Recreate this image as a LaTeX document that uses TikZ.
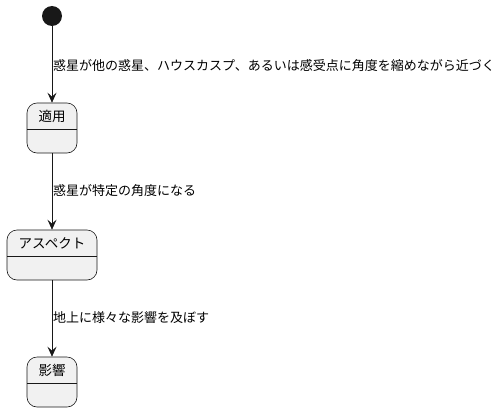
\documentclass[tikz,border=0pt]{standalone}
\usepackage{fontspec}
\newfontfamily\cjk{Noto Sans CJK JP}
\usetikzlibrary{arrows.meta,positioning}
\definecolor{statefill}{HTML}{F1F1F1}
\definecolor{linec}{HTML}{181818}
\tikzset{
  x=1pt,y=-1pt,
  statebox/.style={draw=linec,fill=statefill,rounded corners=10pt,line width=0.6pt,minimum height=50pt,inner sep=0pt},
  arr/.style={draw=linec,line width=0.6pt,-{Stealth[length=10pt,width=9pt,inset=4pt]}},
  lbl/.style={font=\cjk\fontsize{13}{15}\selectfont,text=black,anchor=west,inner sep=0pt},
  sname/.style={font=\cjk\fontsize{13.5}{15}\selectfont,text=black,inner sep=0pt}
}
\begin{document}
\begin{tikzpicture}
\useasboundingbox (0,0) rectangle (502,412);
\node[circle,fill=linec,minimum size=20pt,inner sep=0pt] (start) at (52,16) {};
% state 1
\node[statebox,minimum width=50pt] (s1) at (52,128) {};
\draw[linec,line width=0.6pt] (27,129) -- (77,129);
\node[sname] (s1t) at (52,116) {適用};
% state 2
\node[statebox,minimum width=90pt] (s2) at (52,255) {};
\draw[linec,line width=0.6pt] (7,256) -- (97,256);
\node[sname] (s2t) at (52,243) {アスペクト};
% state 3
\node[statebox,minimum width=50pt] (s3) at (52,382) {};
\draw[linec,line width=0.6pt] (27,383) -- (77,383);
\node[sname] (s3t) at (52,370) {影響};
% arrows
\draw[arr] (start) -- (s1);
\draw[arr] (s1) -- (s2);
\draw[arr] (s2) -- (s3);
\node[lbl] (l1) at (53,66) {惑星が他の惑星、ハウスカスプ、あるいは感受点に角度を縮めながら近づく};
\node[lbl] (l2) at (53,191) {惑星が特定の角度になる};
\node[lbl] (l3) at (53,318) {地上に様々な影響を及ぼす};
\end{tikzpicture}
\end{document}
